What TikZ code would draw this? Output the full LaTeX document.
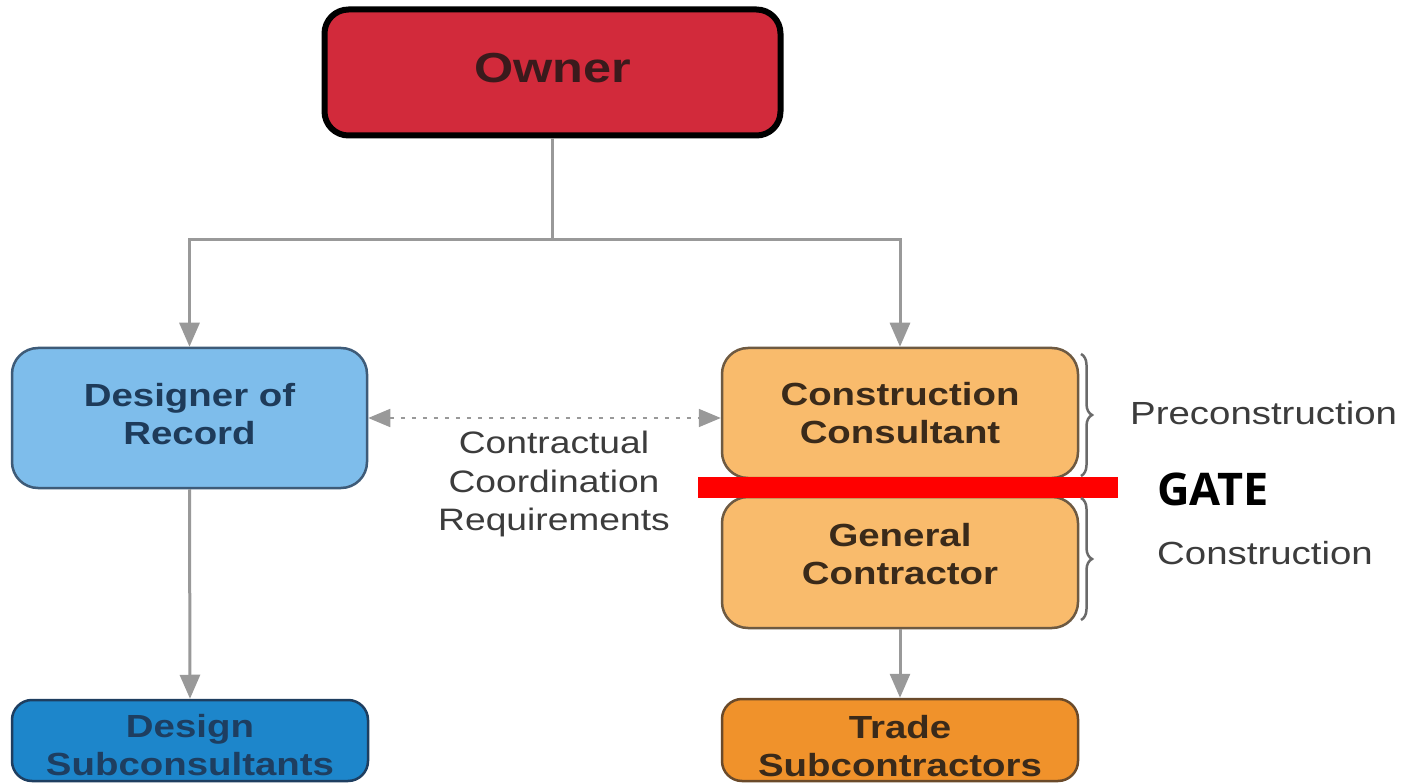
\documentclass[tikz,border=0pt]{standalone}
\usepackage{fontspec}
\setmainfont{Liberation Sans}[FakeStretch=1.2]
\newfontfamily\gatefont{Open Sans}
\usetikzlibrary{arrows.meta,decorations.pathreplacing}
\definecolor{ownerfill}{HTML}{D22A3B}
\definecolor{ownertext}{HTML}{3A1A1C}
\definecolor{dorfill}{HTML}{7EBDEB}
\definecolor{dorline}{HTML}{3E5B78}
\definecolor{dortext}{HTML}{1E3B5A}
\definecolor{subfill}{HTML}{1D86CB}
\definecolor{subline}{HTML}{1E3E60}
\definecolor{ccfill}{HTML}{F9BB6C}
\definecolor{ccline}{HTML}{6E5A42}
\definecolor{cctext}{HTML}{3A2A1A}
\definecolor{tradefill}{HTML}{F0922B}
\definecolor{tradeline}{HTML}{6A4A2A}
\definecolor{conncol}{HTML}{999999}
\definecolor{labcol}{HTML}{3C3C3C}
\definecolor{bracecol}{HTML}{6A6A6A}
\begin{document}
\begin{tikzpicture}[x=1pt,y=-1pt,
  boxtext/.style={font=\bfseries\fontsize{32}{38}\selectfont, align=center, inner sep=0pt},
  orgbox/.style={rectangle, rounded corners=26pt, line width=2.5pt, inner sep=0pt},
  conn/.style={draw=conncol, line width=3pt},
  arr/.style={conn, -{Triangle[length=24pt,width=20pt]}},
  dotarr/.style={draw=conncol, line width=1.8pt, dash pattern=on 4pt off 7pt,
     {Triangle[length=22pt,width=18pt]}-{Triangle[length=22pt,width=18pt]}},
  sidelab/.style={font=\fontsize{32}{35}\selectfont, text=labcol, anchor=west, inner sep=0pt},
  bracestyle/.style={draw=bracecol, line width=2.5pt, decorate, decoration={brace, amplitude=11pt}}
]
\useasboundingbox (0,0) rectangle (1414,783);
\fill[white] (0,0) rectangle (1414,783);

% boxes
\node[orgbox, fill=ownerfill, draw=black, line width=6pt, rounded corners=24pt,
      minimum width=456pt, minimum height=126pt,
      label={[font=\bfseries\fontsize{42}{44}\selectfont, text=ownertext, yshift=4pt]center:Owner}]
      (owner) at (552.5,72.5) {};
\node[orgbox, fill=dorfill, draw=dorline,
      minimum width=355pt, minimum height=140pt,
      label={[boxtext, text=dortext, yshift=4pt]center:{Designer of\\Record}}]
      (dor) at (189.5,418) {};
\node[orgbox, fill=subfill, draw=subline, rounded corners=20pt,
      minimum width=356pt, minimum height=81pt,
      label={[boxtext, text=subline, yshift=-5pt]center:{Design\\Subconsultants}}]
      (dsub) at (190,740.5) {};
\node[orgbox, fill=ccfill, draw=ccline,
      minimum width=356pt, minimum height=130pt,
      label={[boxtext, text=cctext, yshift=0pt]center:{Construction\\Consultant}}]
      (cc) at (900,413) {};
\node[orgbox, fill=ccfill, draw=ccline,
      minimum width=356pt, minimum height=131pt,
      label={[boxtext, text=cctext, yshift=8pt]center:{General\\Contractor}}]
      (gc) at (900,562.5) {};
\node[orgbox, fill=tradefill, draw=tradeline, rounded corners=20pt,
      minimum width=356pt, minimum height=82pt,
      label={[boxtext, text=cctext, yshift=-6pt]center:{Trade\\Subcontractors}}]
      (trade) at (900,740) {};

% connectors
\coordinate (j) at (552.5,240);
\draw[conn] (owner.south) -- (j);
\draw[arr] (j) -| (dor.north);
\draw[arr] (j) -| (cc.north);
\draw[arr] (dor.south) -- (dsub.north);
\draw[arr] (gc.south) -- (trade.north);
\coordinate (dl) at (dor.east |- 0,418);
\coordinate (cl) at (cc.west |- 0,418);
\draw[dotarr] (dl) -- (cl);

\node[font=\fontsize{31}{38.5}\selectfont, text=labcol, align=center, inner sep=0pt]
  (coord) at (554,484) {Contractual\\Coordination\\Requirements};

% gate bar
\fill[red] (698,477) rectangle (1118,498);
\node[font=\gatefont\bfseries\fontsize{45}{48}\selectfont, text=black, anchor=west, inner sep=0pt]
  (gate) at (1157,489) {GATE};

% braces
\coordinate (b1t) at (1081,354);
\coordinate (b1b) at (1081,476);
\coordinate (b2t) at (1081,498);
\coordinate (b2b) at (1081,620);
\draw[bracestyle] (b1t) -- (b1b);
\draw[bracestyle] (b2t) -- (b2b);
\node[sidelab] (pre) at (1130,413) {Preconstruction};
\node[sidelab] (con) at (1157,553) {Construction};
\end{tikzpicture}
\end{document}
